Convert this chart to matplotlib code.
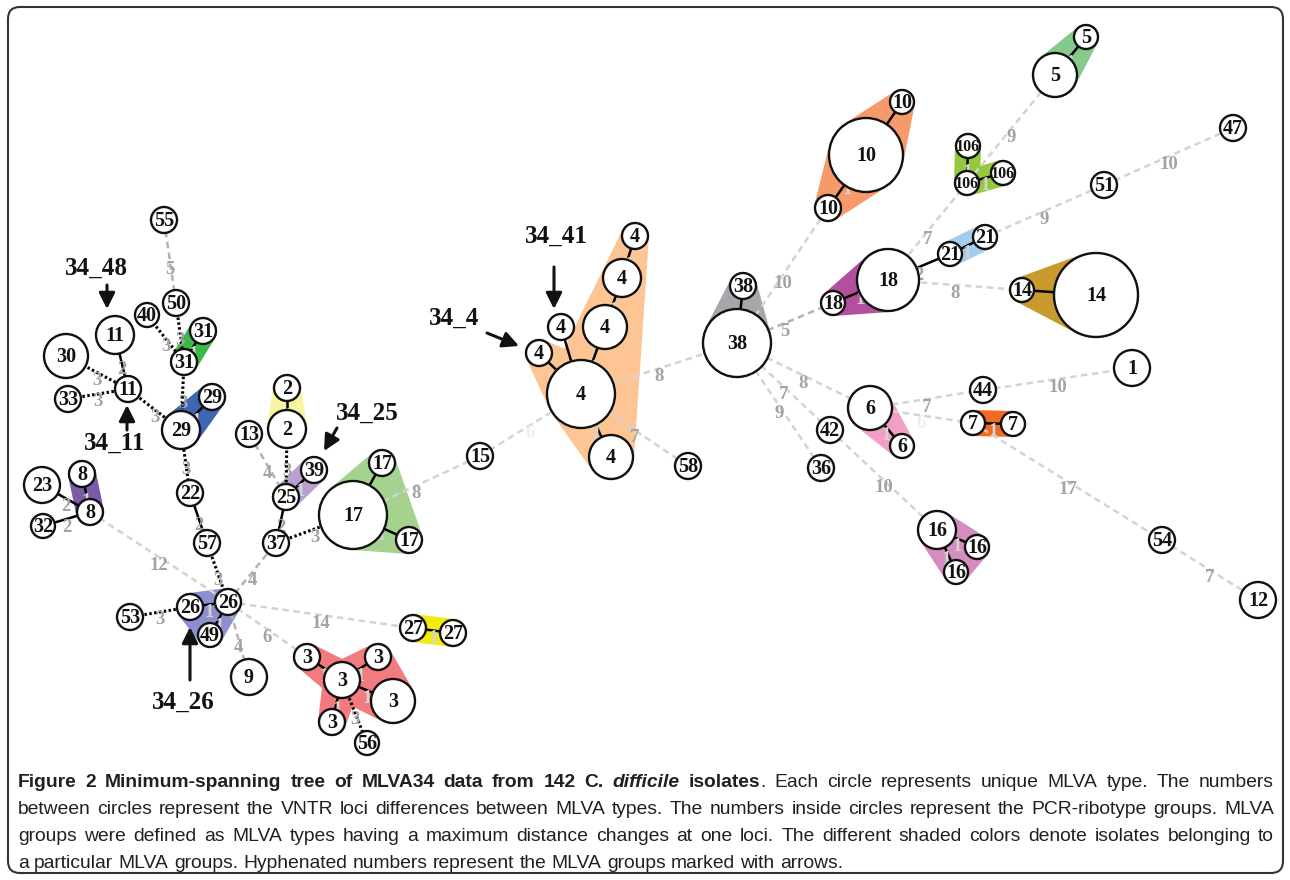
import numpy as np
import matplotlib
matplotlib.use("Agg")
import matplotlib.pyplot as plt
from matplotlib.patches import Circle, Polygon, FancyBboxPatch

# ---- MLVA types (layout of the original figure, pixel units) ----
node_ids = ["a55", "a50", "a40", "a31t", "a31b", "a11t", "a30", "a11b", "a33", "a29s",
            "a29b", "a22", "a57", "a23", "a8t", "a8b", "a32", "a26a", "a26b", "a49",
            "a53", "a9", "a2t", "a2b", "a13", "a39", "a25", "a37", "a17", "a17t",
            "a17b", "a15", "a27a", "a27b", "a3c", "a3tl", "a3tr", "a3r", "a3bl", "a56",
            "a4", "a4t", "a4s", "a4m", "a4_41", "a4_4", "a4b", "a58", "a38", "a38s",
            "a10", "a10t", "a10b", "a5", "a5s", "a106t", "a106b", "a106r", "a47", "a51",
            "a21r", "a21l", "a18", "a18s", "a14s", "a14", "a1", "a44", "a6", "a6s",
            "a7a", "a7b", "a42", "a36", "a16", "a16r", "a16b", "a54", "a12"]
node_labels = ["55", "50", "40", "31", "31", "11", "30", "11", "33", "29",
               "29", "22", "57", "23", "8", "8", "32", "26", "26", "49",
               "53", "9", "2", "2", "13", "39", "25", "37", "17", "17",
               "17", "15", "27", "27", "3", "3", "3", "3", "3", "56",
               "4", "4", "4", "4", "4", "4", "4", "58", "38", "38",
               "10", "10", "10", "5", "5", "106", "106", "106", "47", "51",
               "21", "21", "18", "18", "14", "14", "1", "44", "6", "6",
               "7", "7", "42", "36", "16", "16", "16", "54", "12"]
node_x = [164, 176, 147, 203, 184, 115, 66, 128, 68, 212,
          181, 190, 207, 42, 82, 90, 43, 190, 228, 210,
          130, 249, 287, 287, 249, 314, 286, 276, 353, 382,
          409, 480, 413, 453, 342, 307, 378, 393, 332, 367,
          581, 635, 622, 605, 561, 539, 611, 688, 737, 743,
          866, 902, 828, 1055, 1086, 968, 967, 1003, 1233, 1104,
          985, 950, 888, 833, 1022, 1096, 1132, 983, 870, 902,
          973, 1013, 830, 821, 937, 977, 956, 1162, 1258]
node_y = [220, 303, 315, 331, 362, 335, 356, 389, 399, 397,
          430, 493, 543, 485, 474, 512, 526, 607, 602, 635,
          617, 677, 388, 429, 434, 470, 497, 543, 515, 463,
          540, 456, 628, 633, 680, 657, 657, 701, 722, 743,
          394, 236, 278, 327, 327, 353, 457, 466, 343, 286,
          155, 102, 208, 75, 37, 146, 183, 173, 128, 185,
          237, 254, 280, 303, 290, 295, 368, 390, 408, 446,
          423, 424, 430, 468, 530, 547, 572, 540, 600]
node_r = [13, 13, 12, 13, 13, 19, 22, 13, 13, 13,
          19, 13, 13, 18, 13, 13, 12, 13, 13, 12,
          13, 18, 13, 19, 13, 13, 13, 13, 34, 13,
          13, 13, 13, 13, 18, 13, 13, 22, 13, 12,
          34, 13, 19, 22, 13, 13, 22, 13, 34, 13,
          37, 12, 13, 22, 12, 12, 12, 12, 13, 13,
          12, 12, 31, 12, 12, 42, 18, 13, 22, 12,
          12, 12, 13, 13, 19, 12, 12, 13, 18]

# ---- tree edges: (from, to, number of differing VNTR loci) ----
edges = [("a55", "a50", 5), ("a50", "a31b", 3), ("a40", "a31b", 3), ("a31t", "a31b", 1),
         ("a31b", "a29b", 3), ("a29s", "a29b", 1), ("a11t", "a11b", 2), ("a30", "a11b", 3),
         ("a33", "a11b", 3), ("a11b", "a29b", 3), ("a29b", "a22", 3), ("a22", "a57", 2),
         ("a57", "a26b", 3), ("a23", "a8b", 2), ("a8t", "a8b", 1), ("a32", "a8b", 2),
         ("a8b", "a26b", 12), ("a53", "a26a", 3), ("a26a", "a26b", 1), ("a26b", "a49", 1),
         ("a26b", "a9", 4), ("a26b", "a37", 4), ("a26b", "a3tl", 6), ("a26b", "a27a", 14),
         ("a37", "a25", 2), ("a37", "a17", 3), ("a25", "a39", 1), ("a25", "a13", 4),
         ("a25", "a2b", 3), ("a2t", "a2b", 1), ("a17", "a17t", 1), ("a17", "a17b", 1),
         ("a17", "a15", 8), ("a15", "a4", 6), ("a27a", "a27b", 1),
         ("a3c", "a3tl", 1), ("a3c", "a3tr", 1), ("a3c", "a3r", 1), ("a3c", "a3bl", 1),
         ("a3c", "a56", 3),
         ("a4", "a4_4", 1), ("a4", "a4_41", 1), ("a4", "a4m", 1), ("a4m", "a4s", 1),
         ("a4s", "a4t", 1), ("a4", "a4b", 1), ("a4", "a58", 7), ("a4", "a38", 8),
         ("a38", "a38s", 1), ("a38", "a10b", 10), ("a38", "a18s", 5), ("a38", "a6", 8),
         ("a38", "a42", 7), ("a38", "a36", 9), ("a42", "a16", 10),
         ("a10", "a10t", 1), ("a10", "a10b", 1), ("a18s", "a18", 1), ("a18", "a21l", 2),
         ("a21l", "a21r", 1), ("a21r", "a51", 9), ("a51", "a47", 10), ("a18", "a106b", 7),
         ("a106b", "a106t", 1), ("a106b", "a106r", 1), ("a5", "a106b", 9), ("a5", "a5s", 1),
         ("a18", "a14s", 8), ("a14s", "a14", 1), ("a6", "a6s", 1), ("a6", "a44", 7),
         ("a6", "a7a", 6), ("a44", "a1", 10), ("a7a", "a7b", 1), ("a7a", "a54", 17),
         ("a54", "a12", 7), ("a16", "a16r", 1), ("a16", "a16b", 1)]
faint_labels = [("a15", "a4"), ("a6", "a7a")]

# ---- MLVA groups (shaded areas) ----
group_colors = ["#f8f4a0", "#3db94a", "#3f67b1", "#7b5ba7", "#b9a0d3", "#a5d38f",
                "#8d8fd0", "#f3ea12", "#f27b80", "#fcc593", "#a6a7aa", "#f69a6a",
                "#b3509d", "#95c93d", "#a3cdef", "#85c98c", "#c99a2e", "#f29ec6",
                "#f26a22", "#d38dbf"]
group_parts = [[["a2t", "a2b"]], [["a31t", "a31b"]], [["a29s", "a29b"]], [["a8t", "a8b"]],
               [["a39", "a25"]], [["a17", "a17t", "a17b"]], [["a26a", "a26b", "a49"]],
               [["a27a", "a27b"]],
               [["a3c", "a3tl"], ["a3c", "a3tr", "a3r"], ["a3c", "a3bl"]],
               [["a4_4", "a4", "a4b"], ["a4t", "a4s", "a4m", "a4", "a4b"]],
               [["a38", "a38s"]], [["a10", "a10t", "a10b"]], [["a18", "a18s"]],
               [["a106t", "a106b"], ["a106b", "a106r"]], [["a21l", "a21r"]],
               [["a5", "a5s"]], [["a14s", "a14"]], [["a6", "a6s"]], [["a7a", "a7b"]],
               [["a16", "a16r", "a16b"]]]

# ---- arrows marking hyphenated MLVA groups ----
arrow_names = ["34_48", "34_11", "34_41", "34_4", "34_25", "34_26"]
arrow_text_xy = [(96, 268), (115, 443), (556, 236), (454, 318), (367, 413), (183, 702)]
arrow_tail = [(107, 285), (127, 430), (554, 267), (487, 333), (337, 428), (190, 680)]
arrow_tip = [(107, 309), (127, 405), (554, 309), (519, 346), (324, 451), (190, 627)]

# ---- caption ----
caption_lines = [
    [("Figure 2 Minimum-spanning tree of MLVA34 data from 142 C. ", "bold", "normal"),
     ("difficile", "bold", "italic"), (" isolates", "bold", "normal"),
     (". Each circle represents unique MLVA type. The numbers", "normal", "normal")],
    [("between circles represent the VNTR loci differences between MLVA types. The numbers "
      "inside circles represent the PCR-ribotype groups. MLVA", "normal", "normal")],
    [("groups were defined as MLVA types having a maximum distance changes at one loci. "
      "The different shaded colors denote isolates belonging to", "normal", "normal")],
    [("a particular MLVA groups. Hyphenated numbers represent the MLVA groups marked with "
      "arrows.", "normal", "normal")],
]

pos = {n: (x, y, r) for n, x, y, r in zip(node_ids, node_x, node_y, node_r)}
serif = "Liberation Serif"

fig = plt.figure(figsize=(12.9, 8.8), dpi=100)
ax = fig.add_axes([0, 0, 1, 1])
ax.set_xlim(0, 1290)
ax.set_ylim(880, 0)
ax.axis("off")


def convex_hull(pts):
    pts = sorted(set(pts))
    def cross(o, a, b):
        return (a[0] - o[0]) * (b[1] - o[1]) - (a[1] - o[1]) * (b[0] - o[0])
    lower, upper = [], []
    for p in pts:
        while len(lower) >= 2 and cross(lower[-2], lower[-1], p) <= 0:
            lower.pop()
        lower.append(p)
    for p in reversed(pts):
        while len(upper) >= 2 and cross(upper[-2], upper[-1], p) <= 0:
            upper.pop()
        upper.append(p)
    return lower[:-1] + upper[:-1]


# shaded groups
ang = np.linspace(0, 2 * np.pi, 60, endpoint=False)
for col, parts in zip(group_colors, group_parts):
    for members in parts:
        pts = []
        for m in members:
            x, y, r = pos[m]
            pts += [(round(x + (r + 1) * np.cos(a), 3), round(y + (r + 1) * np.sin(a), 3)) for a in ang]
        ax.add_patch(Polygon(convex_hull(pts), closed=True, fc=col, ec="none", zorder=1))

# edges + distance labels
for a, b, d in edges:
    xa, ya, _ = pos[a]
    xb, yb, _ = pos[b]
    if d <= 2:
        ax.plot([xa, xb], [ya, yb], color="black", lw=1.8, zorder=2, solid_capstyle="butt")
    elif d == 3:
        ax.plot([xa, xb], [ya, yb], color="black", lw=2.2, ls=(0, (0.8, 0.8)), zorder=2)
    else:
        c = "#b3b3b3" if d <= 5 else "#d3d3d3"
        ax.plot([xa, xb], [ya, yb], color=c, lw=1.8, ls=(0, (2.6, 1.8)), zorder=2)
    if d == 1:
        lc = "#d4d4d4"
    elif (a, b) in faint_labels:
        lc = "#eeeeee"
    else:
        lc = "#a3a3a3"
    ax.text((xa + xb) / 2, (ya + yb) / 2 + 8, str(d), color=lc, fontsize=13.5,
            fontfamily=serif, fontweight="bold", ha="center", va="center", zorder=2.5)

# circles
for n, lab, x, y, r in zip(node_ids, node_labels, node_x, node_y, node_r):
    ax.add_patch(Circle((x, y), r, fc="white", ec="#111111", lw=1.7, zorder=3))
    fs = 11.5 if len(lab) > 2 else 14.5
    ax.text(x, y + 1, lab, fontsize=fs, fontfamily=serif, fontweight="bold",
            ha="center", va="center", color="#111111", zorder=4)

# arrows
for name, txy, tail, tip in zip(arrow_names, arrow_text_xy, arrow_tail, arrow_tip):
    ax.text(txy[0], txy[1], name, fontsize=18, fontfamily=serif, fontweight="bold",
            ha="center", va="center", color="#111111", zorder=5)
    ax.annotate("", xy=tip, xytext=tail, zorder=5,
                arrowprops=dict(arrowstyle="-|>,head_length=0.6,head_width=0.3",
                                color="#111111", lw=2.2, shrinkA=0, shrinkB=0,
                                mutation_scale=16))

# frame
ax.add_patch(FancyBboxPatch((8, 7), 1275, 866, boxstyle="round,pad=0,rounding_size=12",
                            fill=False, ec="#333333", lw=1.5, zorder=6))

# caption, justified like the journal layout
cap_font = ["DejaVu Sans Condensed", "Liberation Sans"]
renderer = fig.canvas.get_renderer()


def seg_width(txt, size, wt, st):
    t = ax.text(0, 0, txt, fontsize=size, fontfamily=cap_font, fontweight=wt,
                fontstyle=st, fontstretch="condensed")
    w = t.get_window_extent(renderer).width
    t.remove()
    return w


def split_words(segs):
    words = [[]]
    for txt, wt, st in segs:
        for i, p in enumerate(txt.split(" ")):
            if i > 0:
                words.append([])
            if p:
                words[-1].append((p, wt, st))
    return [w for w in words if w]


line_words = [split_words(s) for s in caption_lines]
x_left, x_right = 18, 1274
ref_size = 10.0
space_ref = seg_width("x x", ref_size, "normal", "normal") - seg_width("xx", ref_size, "normal", "normal")


def natural_width(words, size):
    w = sum(seg_width(p, size, wt, st) for wd in words for p, wt, st in wd)
    return w + space_ref * size / ref_size * (len(words) - 1)


widest = max(natural_width(w, ref_size) for w in line_words[:-1])
cap_size = ref_size * (x_right - x_left - 25) / widest

baselines = [787, 814, 841, 868]
for k, (words, yb) in enumerate(zip(line_words, baselines)):
    widths = [[seg_width(p, cap_size, wt, st) for p, wt, st in w] for w in words]
    tot = sum(sum(w) for w in widths)
    if k < len(line_words) - 1:
        gap = (x_right - x_left - tot) / (len(words) - 1)
    else:
        gap = space_ref * cap_size / ref_size
    x = x_left
    for w, ws in zip(words, widths):
        for (p, wt, st), sw in zip(w, ws):
            ax.text(x, yb, p, fontsize=cap_size, fontfamily=cap_font, fontweight=wt,
                    fontstyle=st, fontstretch="condensed", color="#231f20",
                    ha="left", va="baseline", zorder=6)
            x += sw
        x += gap

fig.savefig("out.png", dpi=100)
